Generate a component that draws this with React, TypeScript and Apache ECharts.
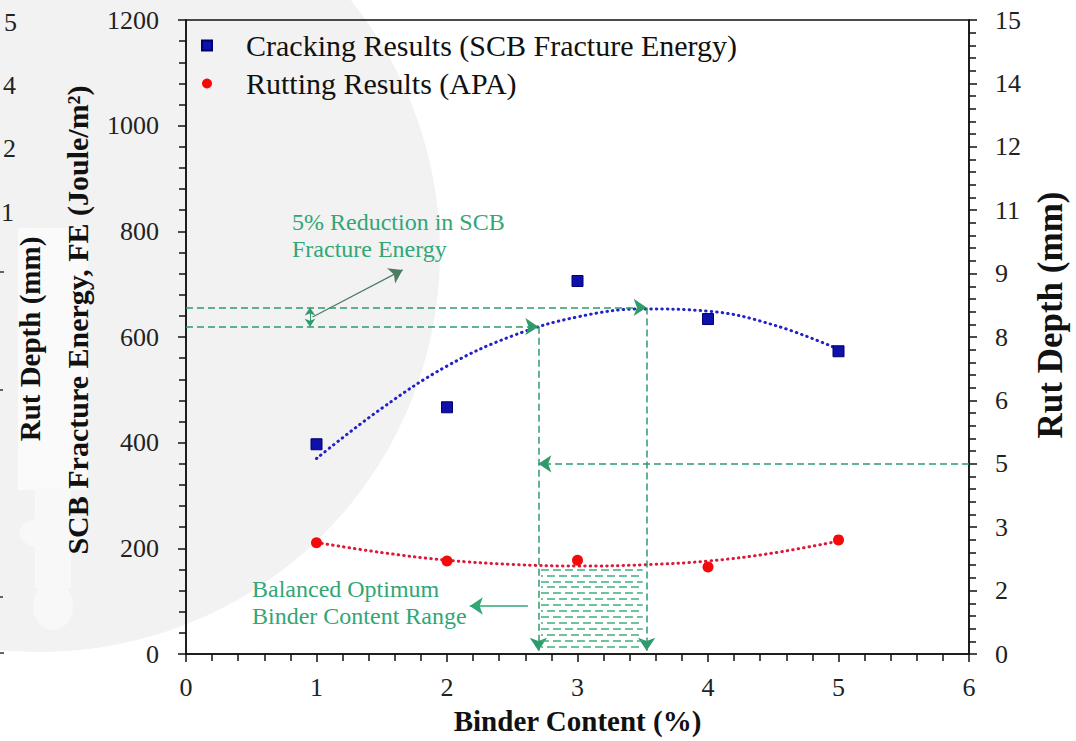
import React, { useEffect, useRef } from "react";
import * as echarts from "echarts";

// ---------- data ----------
const binderContent = [1, 2, 3, 4, 5];
const fractureEnergy = [397, 467, 706, 634, 573]; // Joule/m2 (left axis)
const rutDepth = [2.63, 2.2, 2.22, 2.06, 2.7]; // mm (right axis)

const trendX = [1, 1.5, 2, 2.5, 3, 3.5, 4, 4.5, 5];
const fractureTrend = [370, 465, 545, 602, 638, 653, 649, 623, 577];
const rutTrend = [2.64, 2.4, 2.22, 2.12, 2.08, 2.11, 2.2, 2.39, 2.67];

const xTicks = { min: 0, max: 6, interval: 1 };
const leftTicks = { min: 0, max: 1200, interval: 200 };
const rightTicks = { min: 0, max: 15, interval: 1.5 };

// annotation values (data units)
const feMax = 656; // max SCB FE on trend
const feReduced = 619.5; // 5% reduction
const bcLow = 2.7; // lower optimum binder content
const bcHigh = 3.53; // upper optimum binder content
const rutLimit = 4.5; // drawn at the "5" tick of the right axis
const hatchRows = [2.0, 1.86, 1.72, 1.58, 1.44, 1.3, 1.16, 1.02, 0.88, 0.74, 0.6, 0.46, 0.32, 0.18];

const SERIF = "'Liberation Serif', 'Times New Roman', serif";
const GREEN = "#2f9a6c";
const GREEN_TEXT = "#31a676";

export default function App() {
  const ref = useRef<HTMLDivElement>(null);

  useEffect(() => {
    if (!ref.current) return;
    const chart = echarts.init(ref.current, undefined, { renderer: "svg" });

    const dashed = { color: GREEN, type: [7, 4] as any, width: 1.5 };
    const ghostFont = `26px ${SERIF}`;

    const option: any = {
      animation: false,
      backgroundColor: "#ffffff",
      textStyle: { fontFamily: SERIF },
      grid: {
        left: 186,
        right: 101,
        top: 20,
        bottom: 87,
        show: true,
        borderColor: "#111",
        borderWidth: 1.5,
        backgroundColor: "transparent",
      },
      legend: {
        data: ["Cracking Results (SCB Fracture Energy)", "Rutting Results (APA)"],
        orient: "vertical",
        left: 196,
        top: 25,
        itemWidth: 10,
        itemHeight: 10,
        itemGap: 7,
        selectedMode: false,
        textStyle: {
          fontFamily: SERIF,
          fontSize: 30,
          color: "#111",
          lineHeight: 31,
          padding: [0, 0, 0, 29],
        },
      },
      xAxis: {
        type: "value",
        min: xTicks.min,
        max: xTicks.max,
        interval: xTicks.interval,
        name: "Binder Content (%)",
        nameLocation: "middle",
        nameGap: 52,
        nameTextStyle: { fontFamily: SERIF, fontSize: 29, fontWeight: "bold", color: "#111" },
        axisLine: { show: true, lineStyle: { color: "#111", width: 1.5 } },
        axisTick: { show: true, inside: false, length: 8, lineStyle: { color: "#111", width: 1.5 } },
        minorTick: { show: true, splitNumber: 5, length: 7, lineStyle: { color: "#111", width: 1.5 } },
        axisLabel: { fontFamily: SERIF, fontSize: 26, color: "#222", margin: 20 },
        splitLine: { show: false },
      },
      yAxis: [
        {
          type: "value",
          position: "left",
          min: leftTicks.min,
          max: leftTicks.max,
          interval: leftTicks.interval,
          name: "SCB Fracture Energy, FE (Joule/m²)",
          nameLocation: "middle",
          nameGap: 94,
          nameRotate: 90,
          nameTextStyle: {
            fontFamily: SERIF,
            fontSize: 30,
            fontWeight: "bold",
            color: "#111",
            padding: [0, 0, 0, 34],
          },
          axisLine: { show: true, lineStyle: { color: "#111", width: 1.5 } },
          axisTick: { show: true, inside: false, length: 8, lineStyle: { color: "#111", width: 1.5 } },
          minorTick: { show: true, splitNumber: 5, length: 7, lineStyle: { color: "#111", width: 1.5 } },
          axisLabel: {
            fontFamily: SERIF,
            fontSize: 26,
            color: "#222",
            margin: 27,
            formatter: (v: number) => String(v),
          },
          splitLine: { show: false },
        },
        {
          type: "value",
          position: "right",
          min: rightTicks.min,
          max: rightTicks.max,
          interval: rightTicks.interval,
          name: "Rut Depth (mm)",
          nameLocation: "middle",
          nameGap: 64,
          nameRotate: 90,
          nameTextStyle: {
            fontFamily: SERIF,
            fontSize: 35,
            fontWeight: "bold",
            color: "#111",
            padding: [0, 0, 0, 44],
          },
          axisLine: { show: true, lineStyle: { color: "#111", width: 1.5 } },
          axisTick: { show: true, inside: false, length: 8, lineStyle: { color: "#111", width: 1.5 } },
          minorTick: { show: true, splitNumber: 5, length: 7, lineStyle: { color: "#111", width: 1.5 } },
          axisLabel: {
            fontFamily: SERIF,
            fontSize: 26,
            color: "#222",
            margin: 26,
            formatter: (v: number) => String(Math.round(v)),
          },
          splitLine: { show: false },
        },
      ],
      graphic: [
        // faint watermark in the background
        { type: "circle", z: -10, silent: true, shape: { cx: 40, cy: 252, r: 400 }, style: { fill: "#f2f2f2" } },
        { type: "rect", z: -9, silent: true, shape: { x: 18, y: 228, width: 70, height: 262 }, style: { fill: "#fafafa" } },
        { type: "rect", z: -9, silent: true, shape: { x: 35, y: 488, width: 36, height: 100 }, style: { fill: "#f8f8f8" } },
        { type: "ellipse", z: -9, silent: true, shape: { cx: 53, cy: 533, rx: 34, ry: 17 }, style: { fill: "#f8f8f8" } },
        { type: "ellipse", z: -9, silent: true, shape: { cx: 53, cy: 606, rx: 20, ry: 24 }, style: { fill: "#f8f8f8" } },
        // cut-off labels of a neighbouring figure at the left edge
        { type: "text", x: 17, y: 22, silent: true, style: { text: "5", font: ghostFont, fill: "#222", align: "right", verticalAlign: "middle" } },
        { type: "text", x: 16, y: 85, silent: true, style: { text: "4", font: ghostFont, fill: "#222", align: "right", verticalAlign: "middle" } },
        { type: "text", x: 16, y: 148, silent: true, style: { text: "2", font: ghostFont, fill: "#222", align: "right", verticalAlign: "middle" } },
        { type: "text", x: 14, y: 212, silent: true, style: { text: "1", font: ghostFont, fill: "#222", align: "right", verticalAlign: "middle" } },
        { type: "line", silent: true, shape: { x1: 0, y1: 272, x2: 4, y2: 272 }, style: { stroke: "#333", lineWidth: 1.5 } },
        { type: "line", silent: true, shape: { x1: 0, y1: 390, x2: 3, y2: 390 }, style: { stroke: "#333", lineWidth: 1.5 } },
        { type: "line", silent: true, shape: { x1: 0, y1: 597, x2: 3, y2: 597 }, style: { stroke: "#333", lineWidth: 1.5 } },
        { type: "line", silent: true, shape: { x1: 0, y1: 653, x2: 4, y2: 653 }, style: { stroke: "#333", lineWidth: 1.5 } },
        {
          type: "text",
          x: 30,
          y: 339,
          rotation: Math.PI / 2,
          silent: true,
          style: {
            text: "Rut Depth (mm)",
            font: `bold 29px ${SERIF}`,
            fill: "#111",
            align: "center",
            verticalAlign: "middle",
          },
        },
        // annotation texts
        {
          type: "text",
          x: 292,
          y: 208,
          silent: true,
          style: {
            text: "5% Reduction in SCB\nFracture Energy",
            font: `24px ${SERIF}`,
            lineHeight: 27,
            fill: GREEN_TEXT,
            align: "left",
            verticalAlign: "top",
          },
        },
        {
          type: "text",
          x: 252,
          y: 575,
          silent: true,
          style: {
            text: "Balanced Optimum\nBinder Content Range",
            font: `24px ${SERIF}`,
            lineHeight: 27,
            fill: GREEN_TEXT,
            align: "left",
            verticalAlign: "top",
          },
        },
      ],
      series: [
        {
          name: "Cracking Results (SCB Fracture Energy)",
          type: "scatter",
          yAxisIndex: 0,
          symbol: "rect",
          symbolSize: 11,
          z: 5,
          itemStyle: { color: "#1010aa", borderColor: "#000070", borderWidth: 1, opacity: 1 },
          data: binderContent.map((x, i) => [x, fractureEnergy[i]]),
        },
        {
          name: "Rutting Results (APA)",
          type: "scatter",
          yAxisIndex: 1,
          symbol: "circle",
          symbolSize: 11,
          z: 5,
          itemStyle: { color: "#f50a0a", opacity: 1 },
          data: binderContent.map((x, i) => [x, rutDepth[i]]),
        },
        {
          name: "FE trend",
          type: "line",
          yAxisIndex: 0,
          smooth: 0.4,
          showSymbol: false,
          symbol: "none",
          z: 4,
          lineStyle: { color: "#2222c8", width: 3, type: [0.5, 5], cap: "round" },
          data: trendX.map((x, i) => [x, fractureTrend[i]]),
          markLine: {
            silent: true,
            animation: false,
            symbol: ["none", "arrow"],
            symbolSize: 13,
            label: { show: false },
            emphasis: { disabled: true },
            lineStyle: dashed,
            data: [
              [{ coord: [0, feMax] }, { coord: [bcHigh, feMax] }],
              [{ coord: [0, feReduced] }, { coord: [bcLow, feReduced] }],
              [{ coord: [bcLow, feReduced] }, { coord: [bcLow, 6] }],
              [{ coord: [bcHigh, feMax] }, { coord: [bcHigh, 6] }],
              [
                { coord: [0.95, feReduced], symbol: "arrow", symbolSize: 8, lineStyle: { color: GREEN, type: "solid", width: 1 } },
                { coord: [0.95, feMax], symbol: "arrow", symbolSize: 8 },
              ],
              [
                { coord: [0.97, 638], symbol: "none", lineStyle: { color: "#4b7d63", type: "solid", width: 1.2 } },
                { coord: [1.66, 727], symbol: "arrow", symbolSize: 13 },
              ],
            ],
          },
        },
        {
          name: "Rut trend",
          type: "line",
          yAxisIndex: 1,
          smooth: 0.4,
          showSymbol: false,
          symbol: "none",
          z: 4,
          lineStyle: { color: "#dd1838", width: 3, type: [0.5, 5], cap: "round" },
          data: trendX.map((x, i) => [x, rutTrend[i]]),
          markLine: {
            silent: true,
            animation: false,
            symbol: ["none", "arrow"],
            symbolSize: 13,
            label: { show: false },
            emphasis: { disabled: true },
            lineStyle: dashed,
            data: [
              [{ coord: [6, rutLimit] }, { coord: [bcLow, rutLimit] }],
              [
                { coord: [2.62, 1.136], symbol: "none", lineStyle: { color: GREEN_TEXT, type: "solid", width: 1.5 } },
                { coord: [2.175, 1.136], symbol: "arrow", symbolSize: 13 },
              ],
              ...hatchRows.map((v, i) => [
                {
                  coord: [2.72, v],
                  symbol: "none",
                  lineStyle: { color: "#3fae7e", type: [8, 4], dashOffset: i % 2 ? 6 : 0, width: 1.5 },
                },
                { coord: [3.5, v], symbol: "none" },
              ]),
            ],
          },
        },
      ],
    };

    chart.setOption(option);
    return () => chart.dispose();
  }, []);

  return (
    <div
      ref={ref}
      style={{ position: "absolute", left: 0, top: 0, width: 1076, height: 741, background: "#fff" }}
    />
  );
}
